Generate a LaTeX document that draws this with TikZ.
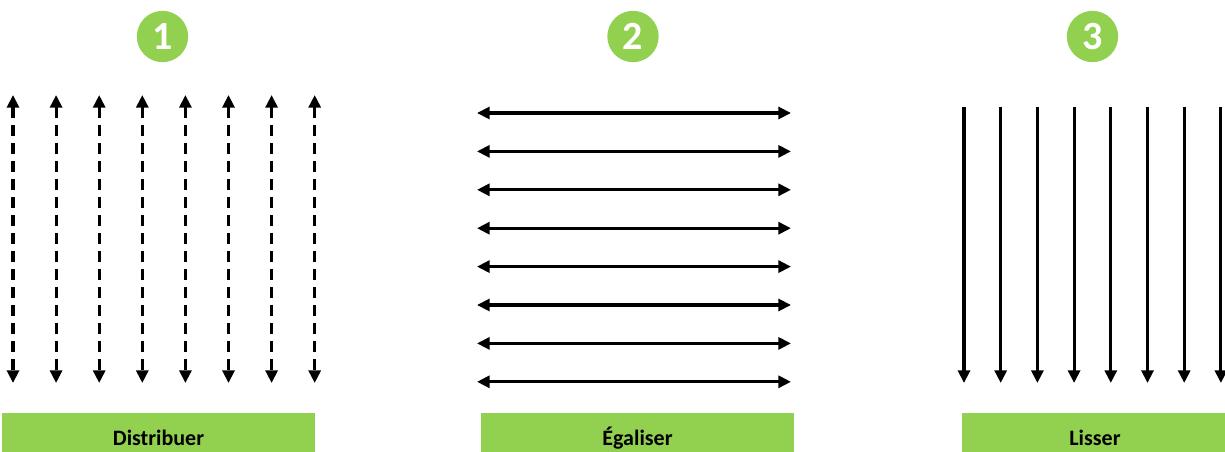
\documentclass[tikz,border=0pt]{standalone}
\usepackage{fontspec}
\setmainfont{Carlito}
\usetikzlibrary{arrows.meta}
\definecolor{stepgreen}{HTML}{92D050}

\tikzset{
    numdisc/.style={circle, fill=stepgreen, minimum size=38.5pt, inner sep=0pt,
        text=white, font=\bfseries\fontsize{30}{30}\selectfont},
    namebar/.style={fill=stepgreen, minimum height=37.5pt, inner sep=0pt,
        font=\bfseries\fontsize{16.5}{19}\selectfont},
    stroke/.style={line width=2.3pt},
    dashstroke/.style={stroke, dash pattern=on 8.5pt off 5pt},
}

\begin{document}
\begin{tikzpicture}[x=0.75pt,y=-0.75pt,>={Triangle[length=9.5pt,width=9pt]}]
        % frame of the picture
        \clip (0,0) rectangle (1225,452);
        \fill[white] (0,0) rectangle (1225,452);

        % the numbered steps
        \node[numdisc] (n1) at (162.5,36.5) {1};
        \node[numdisc] (n2) at (633,36.5)   {2};
        \node[numdisc] (n3) at (1092.5,36.5) {3};

        % step 1: dashed arrows both ways
        \foreach \i in {0,...,7} {
                \coordinate (d-top-\i) at (13+43.1*\i,95);
                \coordinate (d-bot-\i) at (13+43.1*\i,383);
                \draw[dashstroke,<->] (d-top-\i) -- (d-bot-\i);
        }

        % step 2: horizontal arrows both ways
        \foreach \i in {0,...,7} {
                \coordinate (e-left-\i) at (477,113+38.4*\i);
                \coordinate (e-right-\i) at (791,113+38.4*\i);
                \draw[stroke,<->] (e-left-\i) -- (e-right-\i);
        }

        % step 3: solid arrows going down
        \foreach \i in {0,...,7} {
                \coordinate (l-top-\i) at (964+36.7*\i,107);
                \coordinate (l-bot-\i) at (964+36.7*\i,383);
                \draw[stroke,->] (l-top-\i) -- (l-bot-\i);
        }

        % the names below
        \node[namebar, minimum width=234.75pt] (b1) at (158.5,438) {Distribuer};
        \node[namebar, minimum width=234.75pt] (b2) at (637.5,438) {Égaliser};
        \node[namebar, minimum width=199.5pt]  (b3) at (1095,438)  {Lisser};
    \end{tikzpicture}
\end{document}
